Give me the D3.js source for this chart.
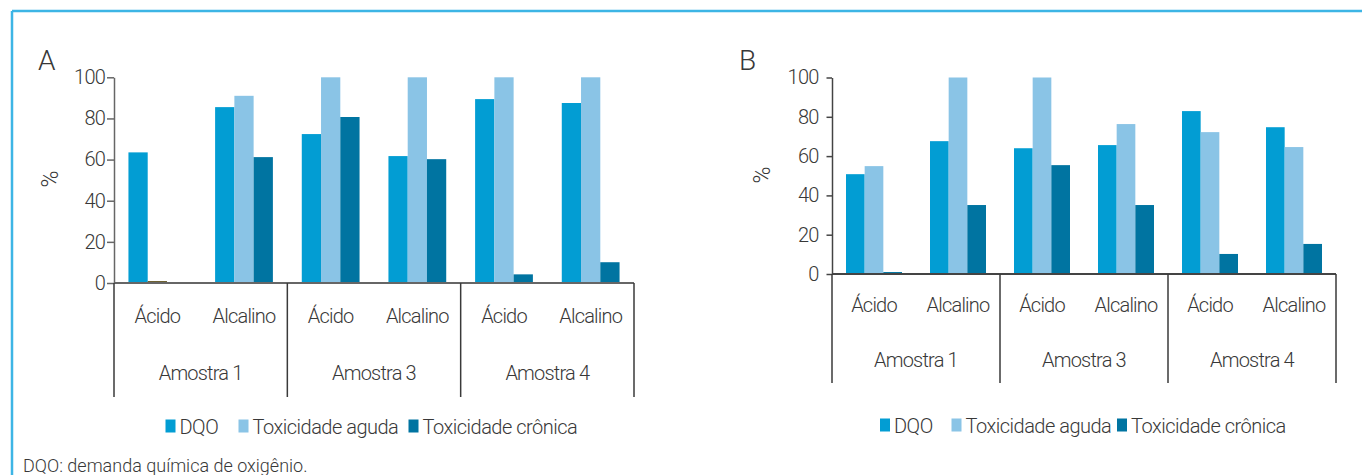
<!DOCTYPE html>
<html>
<head>
<meta charset="utf-8">
<script src="https://cdn.jsdelivr.net/npm/d3@7"></script>
<style>
  html, body { margin: 0; padding: 0; background: #fff; }
  svg { display: block; }
  text { font-family: Roboto, "Open Sans", sans-serif; font-weight: 300; fill: #383838; }
</style>
</head>
<body>
<svg id="chart" width="1362" height="475"></svg>
<script>
// Treatment categories (pH of the treatment) and the samples that group them
const categories = ["Ácido", "Alcalino", "Ácido", "Alcalino", "Ácido", "Alcalino"];
const samples = ["Amostra 1", "Amostra 3", "Amostra 4"];
const seriesNames = ["DQO", "Toxicidade aguda", "Toxicidade crônica"];
const yTicks = [0, 20, 40, 60, 80, 100];

// Panel A removal percentages (null = not measured, 0 = measured as zero)
const dqoA = [63.5, 85.5, 72.4, 61.7, 89.4, 87.5];
const agudaA = [0, 91, 100, 100, 100, 100];
const cronicaA = [null, 61.2, 80.7, 60.2, 4.2, 10.1];

// Panel B removal percentages
const dqoB = [50.8, 67.6, 64.0, 65.6, 82.9, 74.7];
const agudaB = [54.9, 100, 100, 76.3, 72.2, 64.6];
const cronicaB = [1.0, 35.1, 55.4, 35.1, 10.2, 15.3];

const colors = ["#029dd3", "#8ac4e6", "#0074a1"];
const zeroColor = "#6e6233";
const footnote = "DQO: demanda química de oxigênio.";

const svg = d3.select("#chart");

// light blue frame along the top and left edge
svg.append("line").attr("x1", 12).attr("x2", 1362).attr("y1", 11).attr("y2", 11)
  .attr("stroke", "#3db5e5").attr("stroke-width", 2.5);
svg.append("line").attr("x1", 12).attr("x2", 12).attr("y1", 11).attr("y2", 475)
  .attr("stroke", "#3db5e5").attr("stroke-width", 2.5);

const panels = [
  {
    letter: "A", values: [dqoA, agudaA, cronicaA],
    x0: 114, x1: 634, yTop: 77.3, yBase: 283,
    letterPos: [38, 70], pctPos: [50, 179],
    tickSize: 7, tickPad: 2,
    catY: 323, sampleY: 380, sepBottom: 397,
    legendY: 426, legendX: [165.5, 238.5, 408.5],
    axisColor: "#666", sepColor: "#3a3a3a"
  },
  {
    letter: "B", values: [dqoB, agudaB, cronicaB],
    x0: 832, x1: 1336, yTop: 77.5, yBase: 274,
    letterPos: [739, 70], pctPos: [762, 175],
    tickSize: 5.5, tickPad: 8,
    catY: 312, sampleY: 367, sepBottom: 383,
    legendY: 425, legendX: [880, 951.5, 1117],
    axisColor: "#444", sepColor: "#3a3a3a"
  }
];

panels.forEach(p => {
  const g = svg.append("g");
  const idx = d3.range(categories.length);

  const x = d3.scaleBand().domain(idx).range([p.x0, p.x1]).paddingInner(1 / 3).paddingOuter(1 / 6);
  const xSeries = d3.scaleBand().domain(d3.range(seriesNames.length)).range([0, x.bandwidth()]);
  const xSample = d3.scaleBand().domain(samples).range([p.x0, p.x1]);
  const xCat = d3.scaleBand().domain(idx).range([p.x0, p.x1]);
  const y = d3.scaleLinear().domain([0, 100]).range([p.yBase, p.yTop]);

  // bars
  seriesNames.forEach((name, s) => {
    const vals = p.values[s];
    const pts = idx.filter(i => vals[i] !== null);
    g.append("g").selectAll("rect").data(pts).join("rect")
      .attr("x", i => x(i) + xSeries(s))
      .attr("width", xSeries.bandwidth())
      .attr("y", i => vals[i] === 0 ? y(0) - 2 : y(vals[i]))
      .attr("height", i => vals[i] === 0 ? 2 : y(0) - y(vals[i]))
      .attr("fill", i => vals[i] === 0 ? zeroColor : colors[s]);
  });

  // y axis
  const yAxis = g.append("g").attr("transform", `translate(${p.x0},0)`)
    .call(d3.axisLeft(y).tickValues(yTicks).tickSize(p.tickSize).tickSizeOuter(0).tickPadding(p.tickPad));
  yAxis.select(".domain").attr("stroke", p.axisColor).attr("stroke-width", 1.5);
  yAxis.selectAll(".tick line").attr("stroke", p.axisColor).attr("stroke-width", 1.5);
  yAxis.selectAll(".tick text")
    .style("font-size", "20px").style("font-family", "Roboto, sans-serif").style("font-weight", 300)
    .attr("fill", "#383838").attr("letter-spacing", "-0.8px");

  // baseline
  g.append("line").attr("x1", p.x0).attr("x2", p.x1).attr("y1", y(0)).attr("y2", y(0))
    .attr("stroke", p.axisColor).attr("stroke-width", 2);

  // vertical separators between the sample groups
  const seps = samples.map(s => xSample(s)).concat([p.x1]);
  g.append("g").selectAll("line").data(seps).join("line")
    .attr("x1", d => d).attr("x2", d => d)
    .attr("y1", y(0)).attr("y2", p.sepBottom)
    .attr("stroke", p.sepColor).attr("stroke-width", 1.5);

  // category labels
  g.append("g").selectAll("text").data(idx).join("text")
    .attr("x", i => xCat(i) + xCat.bandwidth() / 2)
    .attr("y", p.catY)
    .attr("text-anchor", "middle")
    .attr("font-size", 20).attr("letter-spacing", "-0.8px")
    .text(i => categories[i]);

  // sample labels
  g.append("g").selectAll("text").data(samples).join("text")
    .attr("x", s => xSample(s) + xSample.bandwidth() / 2)
    .attr("y", p.sampleY)
    .attr("text-anchor", "middle")
    .attr("font-size", 20).attr("letter-spacing", "-0.8px")
    .text(s => s);

  // panel letter and unit label
  g.append("text").attr("x", p.letterPos[0]).attr("y", p.letterPos[1])
    .attr("font-size", 28).text(p.letter);
  g.append("text")
    .attr("transform", `translate(${p.pctPos[0]},${p.pctPos[1]}) rotate(-90)`)
    .attr("text-anchor", "middle").attr("dy", "0.35em")
    .attr("font-size", 23).text("%");

  // legend
  const leg = g.append("g").selectAll("g").data(seriesNames).join("g")
    .attr("transform", (d, i) => `translate(${p.legendX[i]},${p.legendY})`);
  leg.append("rect").attr("x", 0).attr("y", -6.5).attr("width", 10).attr("height", 13)
    .attr("fill", (d, i) => colors[i]);
  leg.append("text").attr("x", 14).attr("y", 7.5)
    .attr("font-size", 20).attr("letter-spacing", "-0.5px")
    .text(d => d);
});

// footnote
svg.append("text").attr("x", 23).attr("y", 472)
  .attr("font-size", 18)
  .text(footnote);
</script>
</body>
</html>
